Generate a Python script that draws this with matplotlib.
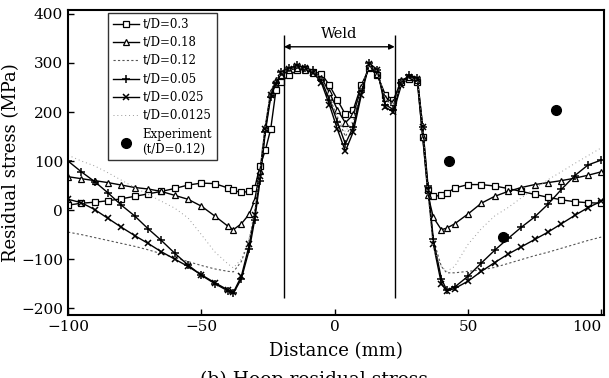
import matplotlib
matplotlib.use("Agg")
import matplotlib.pyplot as plt

plt.rcParams['font.family'] = ['DejaVu Serif']

# distance along the pipe (mm)
dist = [-100, -95, -90, -85, -80, -75, -70, -65, -60, -55, -50, -45, -40,
        -38, -35, -32, -30, -28, -26, -24, -22,
        -20, -17, -14, -11, -8, -5, -2, 1, 4, 7, 10, 13, 16, 19, 22, 25, 28, 31,
        33, 35, 37, 40, 42, 45,
        50, 55, 60, 65, 70, 75, 80, 85, 90, 95, 100]

# hoop residual stress (MPa) for each t/D
td_030 = [10, 14, 16, 19, 23, 28, 33, 38, 44, 51, 55, 54, 45,
          40, 36, 38, 45, 90, 122, 165, 245,
          262, 275, 285, 288, 282, 278, 255, 225, 195, 205, 255, 290, 275, 235, 225, 262, 268, 262,
          150, 40, 28, 30, 34, 45,
          52, 52, 49, 44, 38, 32, 26, 21, 17, 15, 14]
td_018 = [68, 64, 60, 56, 51, 46, 43, 38, 30, 22, 8, -12, -33,
          -40, -28, -8, 20, 80, 170, 240, 265,
          275, 285, 290, 285, 280, 270, 240, 205, 178, 195, 250, 292, 278, 228, 220, 265, 272, 265,
          150, 30, -15, -40, -37, -28,
          -8, 14, 28, 38, 46, 52, 56, 60, 65, 71, 78]
td_012 = [-45, -50, -56, -62, -68, -74, -81, -89, -97, -105, -113, -120, -125,
          -126, -105, -60, -5, 75, 170, 240, 262,
          278, 286, 291, 287, 282, 265, 230, 190, 150, 180, 245, 296, 282, 225, 215, 260, 272, 266,
          160, 40, -60, -115, -128, -128,
          -125, -122, -117, -109, -101, -93, -86, -78, -70, -62, -55]
td_005 = [100, 78, 58, 35, 10, -12, -38, -62, -88, -112, -133, -150, -165,
          -170, -140, -80, -20, 60, 160, 230, 260,
          282, 290, 295, 290, 285, 265, 225, 180, 135, 170, 240, 300, 285, 215, 205, 260, 275, 270,
          170, 50, -60, -140, -163, -157,
          -135, -108, -82, -58, -35, -14, 12, 42, 70, 92, 102]
td_0025 = [22, 15, 1, -17, -35, -52, -68, -85, -100, -115, -132, -148, -163,
           -168, -135, -70, -10, 70, 165, 235, 258,
           280, 288, 293, 290, 280, 260, 215, 165, 120, 160, 235, 298, 285, 210, 200, 255, 272, 268,
           170, 40, -70, -150, -165, -160,
           -145, -125, -107, -90, -75, -60, -45, -28, -11, 5, 18]
td_00125 = [112, 100, 90, 76, 61, 46, 32, 18, 4, -16, -50, -85, -110,
            -118, -100, -55, 0, 80, 175, 245, 265,
            280, 287, 292, 288, 283, 268, 232, 192, 160, 185, 248, 297, 283, 225, 212, 258, 270, 266,
            170, 30, -80, -115, -125, -115,
            -70, -38, -12, 5, 25, 44, 62, 78, 95, 111, 127]

# measured values (t/D=0.12)
exp_x = [43, 63, 83]
exp_y = [100, -55, 205]

weld_left, weld_right = -19, 22.5

fig = plt.figure(figsize=(6.09, 3.78), dpi=100)
ax = fig.add_axes([0.1117, 0.1667, 0.8801, 0.8068])

ax.plot(dist, td_030, color='black', lw=1.0, marker='s', ms=4.5, mfc='white', mew=0.9,
        label='t/D=0.3')
ax.plot(dist, td_018, color='black', lw=1.0, marker='^', ms=4.5, mfc='white', mew=0.9,
        label='t/D=0.18')
ax.plot(dist, td_012, color='#555555', lw=0.8, ls=(0, (2, 2)), label='t/D=0.12')
ax.plot(dist, td_005, color='black', lw=1.0, marker='+', ms=6, mew=1.1, label='t/D=0.05')
ax.plot(dist, td_0025, color='black', lw=1.0, marker='x', ms=5, mew=1.1, label='t/D=0.025')
ax.plot(dist, td_00125, color='#999999', lw=0.7, ls=(0, (1, 3)), label='t/D=0.0125')
ax.plot(exp_x, exp_y, ls='none', marker='o', ms=7, color='black',
        label='Experiment\n(t/D=0.12)')

# weld zone
ax.vlines([weld_left, weld_right], -180, 357, color='black', lw=1.0)
ax.annotate('', xy=(weld_left, 333), xytext=(weld_right, 333),
            arrowprops=dict(arrowstyle='<|-|>', color='black', lw=1.0,
                            shrinkA=0, shrinkB=0, mutation_scale=8))
ax.text((weld_left + weld_right) / 2, 345, 'Weld', ha='center', va='bottom', fontsize=10.5)

ax.set_xlim(-100, 101)
ax.set_ylim(-214, 408)
ax.set_xticks([-100, -50, 0, 50, 100])
ax.set_yticks([-200, -100, 0, 100, 200, 300, 400])
ax.tick_params(direction='in', length=4, width=1.0, labelsize=11)
ax.get_xticklabels()[-1].set_horizontalalignment('right')
for s in ax.spines.values():
    s.set_linewidth(1.5)

ax.set_xlabel('Distance (mm)', fontsize=13, labelpad=6)
ax.set_ylabel('Residual stress (MPa)', fontsize=13, labelpad=1)

leg = ax.legend(loc='upper left', bbox_to_anchor=(0.075, 0.99), fontsize=8.5,
                frameon=True, fancybox=False, edgecolor='black', handlelength=2.2,
                handletextpad=0.3, borderpad=0.4, labelspacing=0.45, borderaxespad=0)
leg.get_frame().set_linewidth(1.0)

fig.text(0.515, -0.005, '(b) Hoop residual stress', ha='center', va='center', fontsize=13.5)

fig.savefig('out.png', dpi=100)
